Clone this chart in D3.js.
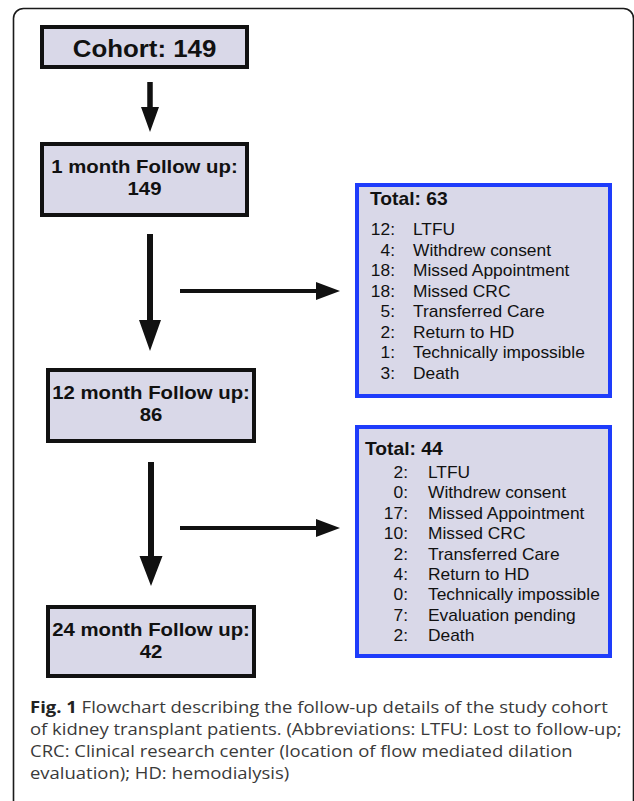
<!DOCTYPE html>
<html>
<head>
<meta charset="utf-8">
<script src="https://cdn.jsdelivr.net/npm/d3@7"></script>
<style>
  html, body { margin: 0; padding: 0; background: #ffffff; }
  svg { display: block; }
</style>
</head>
<body>
<div id="chart"></div>
<script>
// ---------------- data ----------------
const stageLabels = ["Cohort", "1 month Follow up", "12 month Follow up", "24 month Follow up"];
const stageCounts = [149, 149, 86, 42];

const lossTotals = [63, 44];
const loss1Reasons = ["LTFU", "Withdrew consent", "Missed Appointment", "Missed CRC",
  "Transferred Care", "Return to HD", "Technically impossible", "Death"];
const loss1Counts = [12, 4, 18, 18, 5, 2, 1, 3];
const loss2Reasons = ["LTFU", "Withdrew consent", "Missed Appointment", "Missed CRC",
  "Transferred Care", "Return to HD", "Technically impossible", "Evaluation pending", "Death"];
const loss2Counts = [2, 0, 17, 10, 2, 4, 0, 7, 2];

const captionBold = "Fig. 1";
const captionLines = [
  " Flowchart describing the follow-up details of the study cohort",
  "of kidney transplant patients. (Abbreviations: LTFU: Lost to follow-up;",
  "CRC: Clinical research center (location of flow mediated dilation",
  "evaluation); HD: hemodialysis)"
];

// ---------------- layout ----------------
const W = 634, H = 801;
const FILL = "#d9d8e8";
const BLUE = "#1e3cfb";
const SX = 1.1; // horizontal stretch of the original artwork text

const svg = d3.select("#chart").append("svg")
  .attr("width", W).attr("height", H)
  .attr("font-family", "'Liberation Sans', Arial, Helvetica, sans-serif");

// outer frame (runs off the right and bottom edges)
svg.append("rect")
  .attr("x", 13.5).attr("y", 8.5).attr("width", 620).attr("height", 830)
  .attr("rx", 10).attr("ry", 10)
  .attr("fill", "none").attr("stroke", "#1a1a1a").attr("stroke-width", 1.6);

// main stage boxes
const stageBoxes = [
  {x: 40, y: 25, w: 209, h: 44},
  {x: 40, y: 142, w: 209, h: 75},
  {x: 46, y: 368, w: 210, h: 75},
  {x: 46, y: 605, w: 210, h: 73}
];

const stageG = svg.selectAll("g.stage").data(stageLabels).join("g").attr("class", "stage");
stageG.append("rect")
  .attr("x", (d, i) => stageBoxes[i].x + 2)
  .attr("y", (d, i) => stageBoxes[i].y + 2)
  .attr("width", (d, i) => stageBoxes[i].w - 4)
  .attr("height", (d, i) => stageBoxes[i].h - 4)
  .attr("fill", FILL).attr("stroke", "#111").attr("stroke-width", 4);

stageG.each(function(d, i) {
  const b = stageBoxes[i];
  const cx = b.x + b.w / 2;
  const g = d3.select(this);
  if (i === 0) {
    g.append("text")
      .attr("transform", `translate(${cx},${b.y + 32}) scale(${SX},1)`)
      .attr("text-anchor", "middle").attr("font-weight", "bold")
      .attr("font-size", 23.5).attr("fill", "#111")
      .text(`${d}: ${stageCounts[i]}`);
  } else {
    g.append("text")
      .attr("transform", `translate(${cx},${b.y + 31}) scale(${SX},1)`)
      .attr("text-anchor", "middle").attr("font-weight", "bold")
      .attr("font-size", 18.5).attr("fill", "#111")
      .text(`${d}:`);
    g.append("text")
      .attr("transform", `translate(${cx},${b.y + 53}) scale(${SX},1)`)
      .attr("text-anchor", "middle").attr("font-weight", "bold")
      .attr("font-size", 18.5).attr("fill", "#111")
      .text(stageCounts[i]);
  }
});

// arrows
function vArrow(x, y0, y1, shaft, headW, headL) {
  const p = d3.path();
  p.moveTo(x - shaft / 2, y0);
  p.lineTo(x + shaft / 2, y0);
  p.lineTo(x + shaft / 2, y1 - headL);
  p.lineTo(x + headW / 2, y1 - headL);
  p.lineTo(x, y1);
  p.lineTo(x - headW / 2, y1 - headL);
  p.lineTo(x - shaft / 2, y1 - headL);
  p.closePath();
  svg.append("path").attr("d", p.toString()).attr("fill", "#111");
}
function hArrow(y, x0, x1, shaft, headH, headL) {
  const p = d3.path();
  p.moveTo(x0, y - shaft / 2);
  p.lineTo(x1 - headL, y - shaft / 2);
  p.lineTo(x1 - headL, y - headH / 2);
  p.lineTo(x1, y);
  p.lineTo(x1 - headL, y + headH / 2);
  p.lineTo(x1 - headL, y + shaft / 2);
  p.lineTo(x0, y + shaft / 2);
  p.closePath();
  svg.append("path").attr("d", p.toString()).attr("fill", "#111");
}
vArrow(150, 82, 132, 5.5, 18, 25);
vArrow(150, 234, 351, 6, 22, 31);
vArrow(151, 462, 586, 6, 23, 30);
hArrow(291, 180, 340, 4, 18, 24);
hArrow(528, 180, 340, 4, 18, 24);

// loss boxes
const lossBoxes = [
  {x: 355, y: 183, w: 257, h: 215, totalX: 370, totalY: 205, numX: 395, labX: 413, rowY0: 235, rowStep: 20.5},
  {x: 355, y: 425, w: 257, h: 233, totalX: 365, totalY: 455, numX: 408, labX: 428, rowY0: 478, rowStep: 20.4}
];
const lossData = [
  {reasons: loss1Reasons, counts: loss1Counts},
  {reasons: loss2Reasons, counts: loss2Counts}
];

lossData.forEach((ld, k) => {
  const b = lossBoxes[k];
  const g = svg.append("g");
  g.append("rect")
    .attr("x", b.x + 2).attr("y", b.y + 2)
    .attr("width", b.w - 4).attr("height", b.h - 4)
    .attr("fill", FILL).attr("stroke", BLUE).attr("stroke-width", 4);
  g.append("text")
    .attr("transform", `translate(${b.totalX},${b.totalY}) scale(${SX},1)`)
    .attr("font-weight", "bold").attr("font-size", 17.5).attr("fill", "#111")
    .text(`Total: ${lossTotals[k]}`);
  const y = d3.scaleLinear().domain([0, 1]).range([b.rowY0, b.rowY0 + b.rowStep]);
  const rows = g.selectAll("g.row").data(ld.reasons).join("g").attr("class", "row");
  rows.append("text")
    .attr("transform", (d, i) => `translate(${b.numX},${y(i)}) scale(${SX},1)`)
    .attr("text-anchor", "end").attr("font-size", 15.8).attr("fill", "#111")
    .text((d, i) => `${ld.counts[i]}:`);
  rows.append("text")
    .attr("transform", (d, i) => `translate(${b.labX},${y(i)}) scale(${SX},1)`)
    .attr("font-size", 15.8).attr("fill", "#111")
    .text(d => d);
});

// caption
const capY = d3.scaleLinear().domain([0, 1]).range([713, 735]);
const cap = svg.append("g")
  .attr("font-family", "'Open Sans', 'Noto Sans', sans-serif")
  .attr("font-size", 16.8).attr("fill", "#3a3a3a");
captionLines.forEach((line, i) => {
  const t = cap.append("text")
    .attr("transform", `translate(30,${capY(i)}) scale(1.1,1)`);
  if (i === 0) {
    t.append("tspan").attr("font-weight", "bold").attr("fill", "#222").text(captionBold);
  }
  t.append("tspan").text(line);
});
</script>
</body>
</html>
